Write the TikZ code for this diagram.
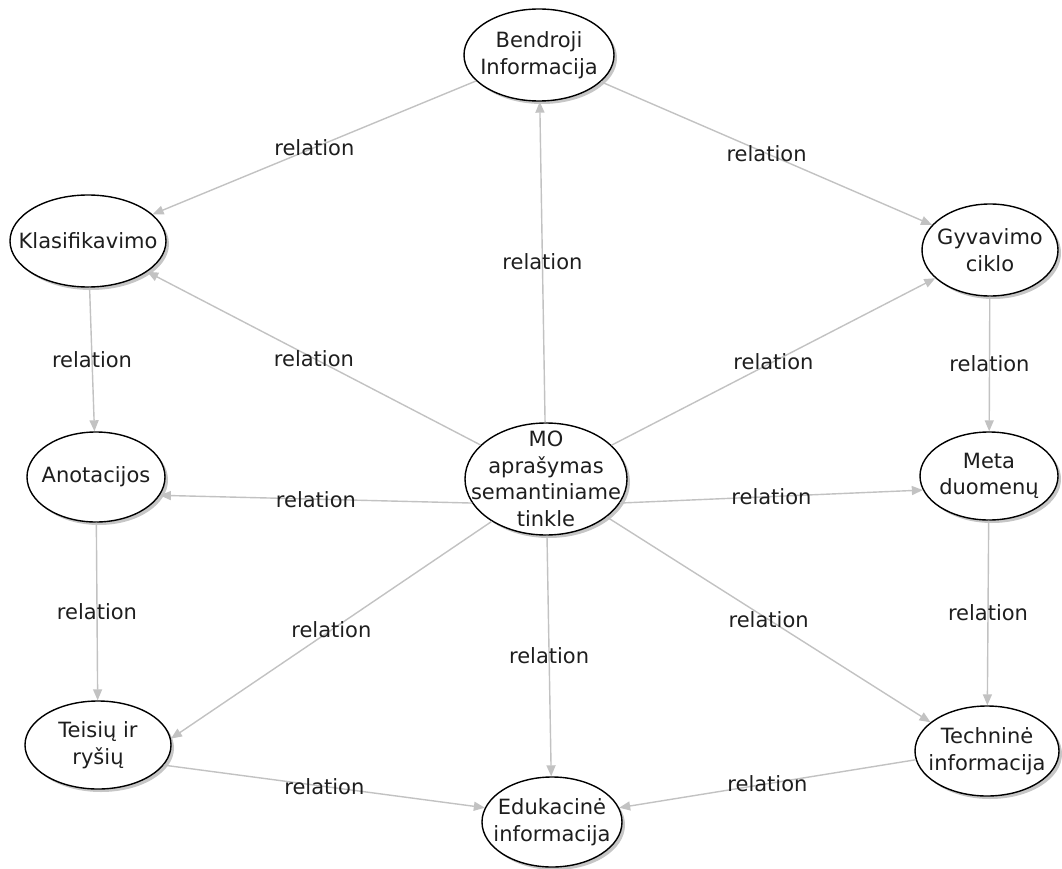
\documentclass[tikz,border=0pt]{standalone}
\usepackage{fontspec}
\setmainfont{DejaVu Sans}
\usetikzlibrary{shapes.geometric,arrows.meta,shadows}
\definecolor{edgegray}{HTML}{C2C2C2}
\definecolor{inkcol}{HTML}{1E1E1E}
\begin{document}
\begin{tikzpicture}[x=1pt,y=-1pt,
  concept/.style={ellipse,draw=black,line width=1.4pt,fill=white,
    inner sep=0pt,
    drop shadow={shadow xshift=3pt,shadow yshift=-3pt,opacity=0.45,fill=gray}},
  ctext/.style={align=center,text=inkcol,inner sep=0pt,
    font=\fontsize{21}{26.5}\selectfont},
  rel/.style={draw=edgegray,line width=1.4pt,
    -{Triangle[length=11pt,width=9pt,fill=edgegray]}},
  rellabel/.style={midway,text=inkcol,font=\fontsize{21}{26}\selectfont,inner sep=0pt}]
\useasboundingbox (0,0) rectangle (1062,869);

% concept outlines (size given by the ellipse alone)
\node[concept,minimum width=150pt,minimum height=92pt]  (gen)  at (539,55)  {};
\node[concept,minimum width=156pt,minimum height=92pt]  (cls)  at (88,241)  {};
\node[concept,minimum width=136pt,minimum height=92pt]  (life) at (990,250) {};
\node[concept,minimum width=138pt,minimum height=90pt]  (ann)  at (96,477)  {};
\node[concept,minimum width=162pt,minimum height=112pt] (mo)   at (546,479) {};
\node[concept,minimum width=138pt,minimum height=88pt]  (meta) at (989,476) {};
\node[concept,minimum width=146pt,minimum height=88pt]  (law)  at (98,745)  {};
\node[concept,minimum width=140pt,minimum height=90pt]  (edu)  at (552,822) {};
\node[concept,minimum width=144pt,minimum height=90pt]  (tech) at (987,751) {};

% concept captions
\node[ctext] (gen-t)  at (gen)  {Bendroji\\Informacija};
\node[ctext] (cls-t)  at (cls)  {Klasifikavimo};
\node[ctext] (life-t) at (life) {Gyvavimo\\ciklo};
\node[ctext] (ann-t)  at (ann)  {Anotacijos};
\node[ctext] (mo-t)   at (mo)   {MO\\aprašymas\\semantiniame\\tinkle};
\node[ctext] (meta-t) at (meta) {Meta\\duomenų};
\node[ctext] (law-t)  at (law)  {Teisių ir\\ryšių};
\node[ctext] (edu-t)  at (edu)  {Edukacinė\\informacija};
\node[ctext] (tech-t) at (tech) {Techninė\\informacija};

% relations
\draw[rel] (gen)      -- node[rellabel] (l1)  {relation} (cls);
\draw[rel] (gen)      -- node[rellabel] (l2)  {relation} (life);
\draw[rel] (mo)       -- node[rellabel] (l3)  {relation} (gen);
\draw[rel] (mo)       -- node[rellabel] (l4)  {relation} (cls);
\draw[rel] (mo)       -- node[rellabel] (l5)  {relation} (life);
\draw[rel] (cls)      -- node[rellabel] (l6)  {relation} (ann);
\draw[rel] (life)     -- node[rellabel] (l7)  {relation} (meta);
\draw[rel] (mo.198)   -- node[rellabel] (l8)  {relation} (ann.-16);
\draw[rel] (mo.-18)   -- node[rellabel] (l9)  {relation} (meta.192);
\draw[rel] (ann)      -- node[rellabel] (l10) {relation} (law);
\draw[rel] (meta)     -- node[rellabel] (l11) {relation} (tech);
\draw[rel] (mo.218)   -- node[rellabel] (l12) {relation} (law.5);
\draw[rel] (mo)       -- node[rellabel] (l13) {relation} (edu);
\draw[rel] (mo.-32)   -- node[rellabel] (l14) {relation} (tech.153);
\draw[rel] (law.-17)  -- node[rellabel] (l15) {relation} (edu.168);
\draw[rel] (tech.187) -- node[rellabel] (l16) {relation} (edu.12);
\end{tikzpicture}
\end{document}
